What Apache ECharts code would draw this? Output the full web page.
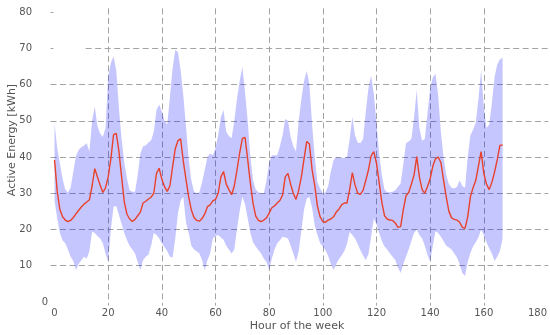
<!DOCTYPE html>
<html><head><meta charset="utf-8">
<script src="https://cdn.jsdelivr.net/npm/echarts@6/dist/echarts.min.js"></script>
<style>html,body{margin:0;padding:0;background:#fff}#c{width:550px;height:335px}</style>
</head><body><div id="c"></div>
<script>
// Hour of the week (0..167)
const hours = Array.from({length: 168}, (_, i) => i);

// Mean active energy per hour [kWh]
const meanEnergy = [
 39.2, 30.5, 25.5, 23.5, 22.6, 22.2, 22.5, 23.3, 24.3, 25.3, 26.2, 27.0, 27.6, 28.2, 32.0, 36.8, 34.5, 32.3, 30.2, 31.5, 34.5, 39.5, 46.2, 46.5,
 41.6, 34.5, 27.6, 24.2, 22.9, 22.2, 22.8, 23.8, 24.8, 27.3, 27.8, 28.4, 28.9, 30.0, 35.5, 36.9, 33.9, 31.8, 30.5, 32.0, 37.3, 42.3, 44.5, 45.0,
 38.8, 33.8, 29.0, 25.4, 23.3, 22.5, 22.3, 23.0, 24.3, 26.3, 26.8, 27.9, 28.3, 30.0, 34.5, 36.0, 32.5, 31.0, 29.6, 32.0, 36.4, 41.1, 45.1, 45.4,
 39.3, 32.8, 27.2, 23.7, 22.5, 22.2, 22.6, 23.2, 24.5, 26.0, 26.5, 27.3, 28.0, 29.5, 34.5, 35.5, 32.5, 30.0, 28.3, 30.8, 34.5, 39.5, 44.3, 43.6,
 36.5, 32.1, 26.4, 23.5, 22.2, 22.0, 22.6, 22.9, 23.5, 24.8, 25.6, 26.8, 27.3, 27.3, 31.0, 35.7, 32.3, 30.0, 29.7, 30.8, 33.5, 36.4, 40.3, 41.5,
 38.3, 33.0, 27.5, 23.8, 22.9, 22.6, 22.5, 21.8, 20.6, 20.8, 25.5, 29.3, 30.2, 32.5, 35.0, 40.1, 34.5, 31.0, 30.0, 31.8, 34.0, 37.5, 39.5, 40.0,
 38.5, 33.6, 29.0, 25.0, 23.2, 22.8, 22.6, 22.0, 20.6, 20.3, 23.5, 29.0, 31.5, 33.5, 37.5, 41.5, 35.5, 32.5, 31.0, 33.0, 35.8, 39.2, 43.2, 43.3
];

// Upper edge of the band [kWh]
const upperEnergy = [
 49.3, 42.5, 38.3, 34.0, 31.0, 30.2, 31.5, 36.0, 40.3, 42.0, 42.7, 43.2, 43.8, 41.5, 50.0, 53.9, 48.5, 46.5, 45.5, 48.0, 62.2, 66.0, 67.7, 64.0,
 53.5, 45.0, 38.5, 34.0, 30.8, 30.4, 30.4, 35.0, 41.0, 43.0, 43.2, 44.0, 44.6, 47.0, 53.0, 54.5, 52.5, 50.0, 49.0, 56.5, 64.5, 69.5, 69.0, 64.0,
 57.0, 48.5, 39.5, 33.5, 30.5, 30.0, 30.3, 33.0, 36.5, 40.0, 41.0, 40.5, 42.5, 46.0, 51.0, 53.0, 47.0, 45.8, 45.2, 50.0, 56.0, 61.0, 64.9, 58.0,
 50.0, 40.0, 33.5, 31.0, 30.3, 30.0, 30.0, 33.5, 38.5, 40.5, 40.5, 40.5, 43.0, 46.0, 50.5, 50.0, 45.6, 43.0, 41.5, 50.0, 56.0, 61.0, 63.8, 60.0,
 49.0, 40.0, 33.0, 31.3, 30.0, 30.3, 32.0, 36.0, 39.2, 40.0, 39.8, 39.7, 39.7, 40.0, 45.0, 51.1, 46.0, 44.0, 43.8, 45.0, 52.5, 59.0, 62.5, 57.5,
 49.5, 41.0, 35.0, 31.0, 30.3, 30.3, 30.4, 30.8, 31.8, 32.7, 38.0, 43.8, 44.3, 45.0, 51.0, 58.5, 48.0, 44.5, 45.0, 52.0, 59.0, 62.0, 63.0, 57.0,
 47.0, 40.0, 35.0, 32.5, 31.5, 31.3, 31.8, 33.6, 32.0, 31.5, 40.0, 46.0, 47.5, 49.5, 56.0, 64.0, 54.0, 48.0, 49.0, 54.8, 62.0, 65.5, 67.0, 67.3
];

// Lower edge of the band [kWh]
const lowerEnergy = [
 28.0, 23.0, 19.0, 17.0, 16.2, 14.5, 12.5, 11.3, 8.8, 10.5, 11.5, 12.5, 12.0, 14.0, 19.4, 19.0, 18.2, 17.5, 16.2, 13.4, 11.0, 20.0, 26.3, 26.5,
 24.0, 21.5, 19.0, 17.0, 15.5, 14.5, 13.4, 11.0, 8.8, 11.5, 12.5, 13.0, 15.5, 19.0, 18.5, 17.5, 16.2, 15.2, 14.0, 12.5, 12.3, 17.5, 24.5, 28.0,
 29.0, 22.0, 19.0, 15.5, 14.5, 14.0, 13.4, 11.5, 8.8, 11.5, 13.4, 17.5, 18.2, 18.5, 17.8, 17.2, 15.5, 14.5, 13.4, 14.5, 20.0, 25.0, 29.0, 27.0,
 23.0, 19.0, 16.5, 15.3, 14.3, 13.4, 12.0, 11.0, 8.8, 12.0, 14.5, 16.2, 17.0, 18.0, 17.8, 17.5, 15.5, 13.4, 11.1, 14.0, 19.5, 25.5, 28.5, 29.0,
 26.0, 21.0, 18.5, 16.2, 15.3, 14.3, 12.7, 10.5, 8.8, 10.5, 11.8, 12.8, 14.0, 16.0, 19.3, 18.5, 17.5, 16.0, 14.3, 12.8, 11.6, 13.2, 18.0, 23.0,
 21.5, 19.0, 16.8, 15.3, 14.5, 13.4, 12.5, 11.6, 9.5, 8.0, 10.5, 12.5, 14.5, 16.8, 19.0, 20.0, 18.5, 17.5, 15.5, 13.0, 11.1, 15.5, 19.5, 19.0,
 18.0, 16.8, 15.5, 15.0, 14.5, 13.4, 12.3, 10.5, 8.0, 7.2, 11.0, 13.5, 15.3, 16.5, 17.8, 20.0, 18.5, 16.5, 14.8, 13.4, 11.3, 12.5, 14.0, 17.5
];

// Tick labels
const xTicks = [0, 20, 40, 60, 80, 100, 120, 140, 160, 180];
const yTicks = [0, 10, 20, 30, 40, 50, 60, 70, 80];
const yTickLabels = [10, 20, 30, 40, 50, 60, 70, 80];

const FONT = 'DejaVu Sans';
const TXT = '#555555';
const GRID = '#a3a3a3';
const NONE = 'rgba(0,0,0,0)';
const DASH = [6, 3.5];

const chart = echarts.init(document.getElementById('c'), null, {renderer: 'canvas'});
chart.setOption({
  animation: false,
  backgroundColor: '#ffffff',
  grid: {left: 50.5, right: 1.8, top: 8.4, bottom: 29.4, containLabel: false},
  xAxis: {
    type: 'value', min: -1.5, max: 184,
    axisLine: {show: false},
    axisTick: {show: false, customValues: xTicks},
    axisLabel: {customValues: xTicks, color: TXT, fontSize: 10, fontFamily: FONT, margin: 3},
    splitLine: {show: true, lineStyle: {type: DASH, width: 1,
      color: xTicks.map((v, i) => (i === 0 || i === xTicks.length - 1) ? NONE : GRID)}}
  },
  yAxis: {
    type: 'value', min: -1, max: 81,
    axisLine: {show: false},
    axisTick: {show: false, customValues: yTicks},
    axisLabel: {customValues: yTickLabels, color: TXT, fontSize: 10, fontFamily: FONT, margin: 18.5},
    splitLine: {show: true, lineStyle: {type: DASH, width: 1,
      color: yTicks.map(v => (v === 0 || v >= 70) ? NONE : GRID)}}
  },
  graphic: [
    {type: 'text', x: 12, y: 140, rotation: Math.PI / 2,
     style: {text: 'Active Energy [kWh]', fill: TXT, font: '11px "DejaVu Sans"', textAlign: 'center', textVerticalAlign: 'middle'}},
    {type: 'text', x: 297, y: 326,
     style: {text: 'Hour of the week', fill: TXT, font: '11px "DejaVu Sans"', textAlign: 'center', textVerticalAlign: 'middle'}},
    {type: 'text', x: 45, y: 302,
     style: {text: '0', fill: TXT, font: '10px "DejaVu Sans"', textAlign: 'center', textVerticalAlign: 'middle'}}
  ],
  series: [
    {
      name: 'band', type: 'custom', silent: true, z: 1,
      data: [[0, 0]],
      renderItem: function (params, api) {
        const pts = [];
        for (let i = 0; i < hours.length; i++) pts.push(api.coord([hours[i], upperEnergy[i]]));
        for (let i = hours.length - 1; i >= 0; i--) pts.push(api.coord([hours[i], lowerEnergy[i]]));
        return {type: 'polygon', shape: {points: pts}, style: {fill: 'rgba(0,0,255,0.225)', stroke: null}};
      }
    },
    {
      name: 'mean', type: 'line', symbol: 'none', silent: true,
      data: hours.map((h, i) => [h, meanEnergy[i]]),
      lineStyle: {color: '#e8412c', width: 1.4}, z: 3,
      markLine: {
        silent: true, symbol: ['none', 'none'], label: {show: false},
        lineStyle: {type: DASH, color: GRID, width: 1},
        data: [
          [{coord: [-1.5, 70]}, {coord: [-0.4, 70]}],
          [{coord: [11.6, 70]}, {coord: [184, 70]}],
          [{coord: [-1.5, 80]}, {coord: [-0.4, 80]}]
        ]
      }
    }
  ]
});
</script>
</body></html>
